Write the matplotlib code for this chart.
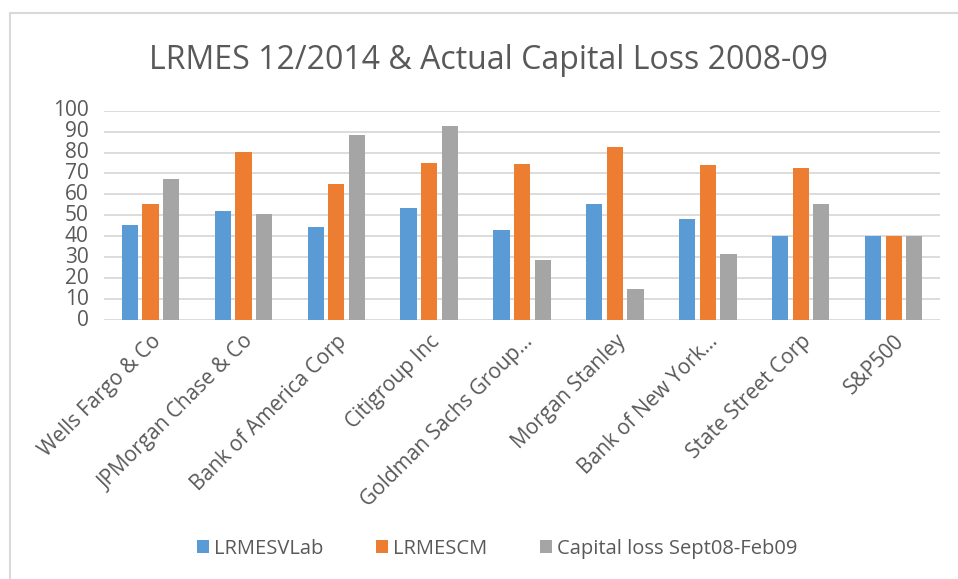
import numpy as np
import matplotlib
matplotlib.use("Agg")
import matplotlib.pyplot as plt
from matplotlib.lines import Line2D

# values
banks = ["Wells Fargo & Co", "JPMorgan Chase & Co", "Bank of America Corp",
         "Citigroup Inc", "Goldman Sachs Group…", "Morgan Stanley",
         "Bank of New York…", "State Street Corp", "S&P500"]
lrmes_vlab = [45.2, 52.3, 44.5, 53.3, 43.2, 55.6, 48.2, 40.1, 40.0]
lrmes_cm = [55.2, 80.1, 64.9, 75.0, 74.4, 82.5, 74.1, 72.5, 40.0]
cap_loss = [67.6, 50.7, 88.6, 92.5, 28.5, 14.8, 31.6, 55.3, 40.0]

series = [("LRMESVLab", lrmes_vlab, "#5B9BD5"),
          ("LRMESCM", lrmes_cm, "#ED7D31"),
          ("Capital loss Sept08-Feb09", cap_loss, "#A5A5A5")]

txt = "#595959"
plt.rcParams["font.family"] = ["Open Sans", "DejaVu Sans"]

fig = plt.figure(figsize=(9.58, 5.79), dpi=100)
# chart frame: only the top and left edges show in the screenshot
fx, fy = 9.5 / 958, 1 - 13 / 579
fig.lines.append(Line2D([fx, 1], [fy, fy], transform=fig.transFigure,
                        color="#D9D9D9", linewidth=1.5))
fig.lines.append(Line2D([fx, fx], [0, fy], transform=fig.transFigure,
                        color="#D9D9D9", linewidth=1.5))

ax = fig.add_axes([0.1086, 0.4473, 0.8727, 0.3615])

x = np.arange(len(banks))
step, w = 0.222, 0.175
for i, (name, vals, col) in enumerate(series):
    ax.bar(x + (i - 1) * step, vals, w, color=col, label=name, zorder=3)

ax.set_xlim(-0.5, len(banks) - 0.5)
ax.set_ylim(0, 100)
ax.set_yticks(range(0, 101, 10))
ax.yaxis.grid(True, color="#D9D9D9", linewidth=1.3, zorder=0)
ax.set_axisbelow(True)
for s in ax.spines.values():
    s.set_visible(False)
ax.tick_params(axis="both", length=0, labelsize=15, labelcolor=txt)
ax.tick_params(axis="y", pad=11)
ax.set_yticklabels([str(v) for v in range(0, 101, 10)], va="center")
ax.set_xticks(x)
ax.set_xticklabels(banks, rotation=45, ha="right", rotation_mode="anchor")
ax.tick_params(axis="x", pad=8)

fig.text(0.51, 0.895, "LRMES 12/2014 & Actual Capital Loss 2008-09",
         ha="center", va="center", fontsize=23, color=txt)

fig.legend(loc="center", bbox_to_anchor=(0.519, 0.052), ncol=3, frameon=False,
           fontsize=14.5, labelcolor=txt, handlelength=0.6, handleheight=0.6,
           handletextpad=0.25, columnspacing=2.6)

fig.savefig("out.png", dpi=100)
